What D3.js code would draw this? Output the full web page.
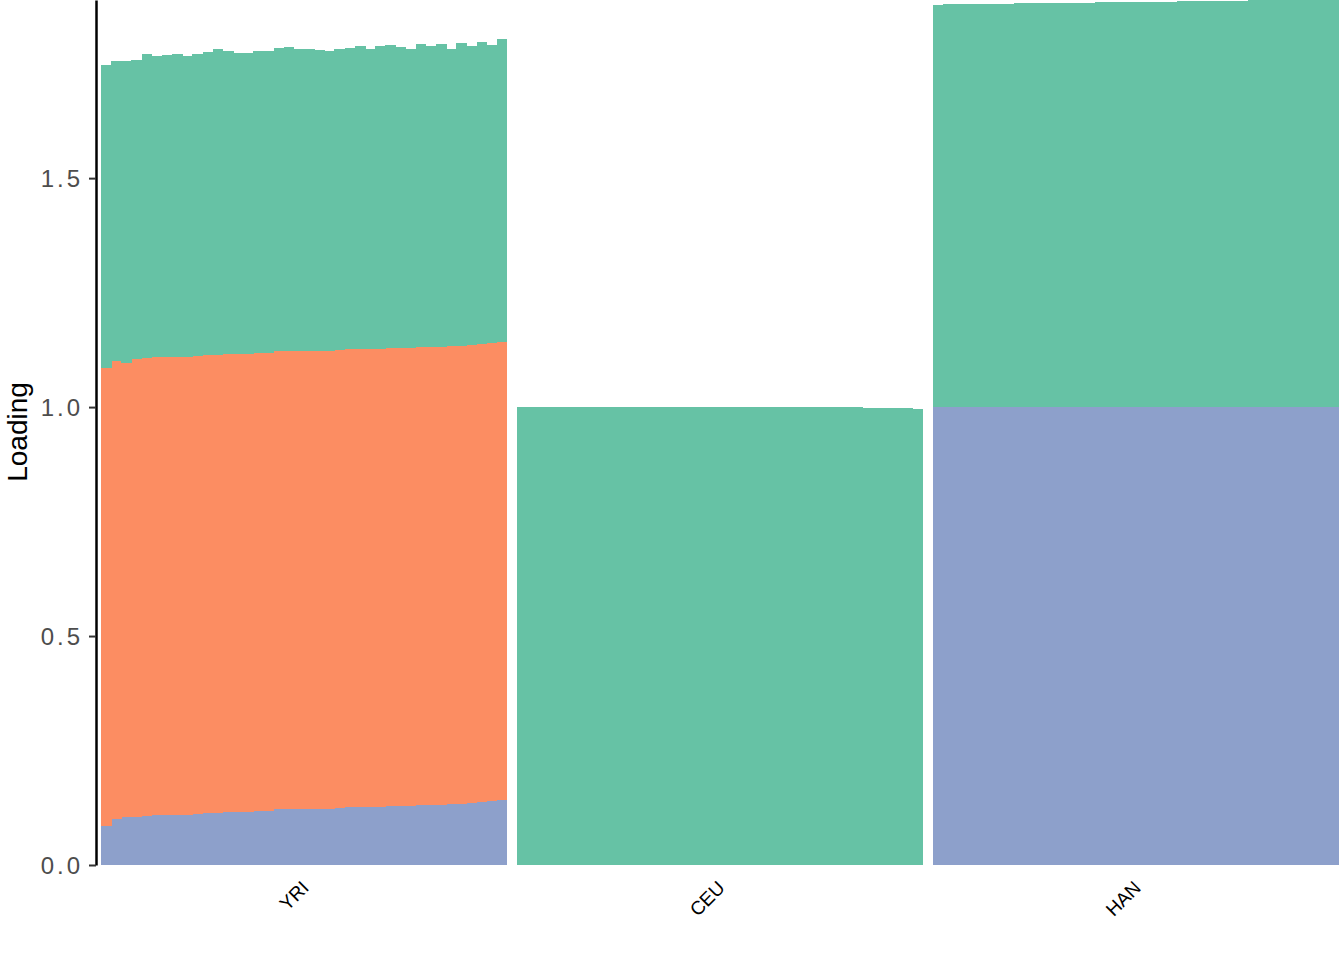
<!DOCTYPE html>
<html>
<head>
<meta charset="utf-8">
<script src="https://cdn.jsdelivr.net/npm/d3@7"></script>
<style>
  html, body { margin: 0; padding: 0; background: #fff; }
  svg { display: block; }
</style>
</head>
<body>
<svg id="chart" width="1344" height="960"></svg>
<script>
// ---- data ----
const groups = ["YRI", "CEU", "HAN"];
const factors = ["k3", "k2", "k1"]; // stacking order bottom -> top
const factorColors = ["#8da0cb", "#fc8d62", "#66c2a5"];
const yTicks = [0, 0.5, 1.0, 1.5];

// YRI, 40 samples
const yriK3 = [0.085,0.100,0.105,0.105,0.107,0.109,0.109,0.109,0.109,0.111,
               0.114,0.114,0.116,0.116,0.116,0.118,0.118,0.122,0.122,0.122,
               0.122,0.122,0.122,0.124,0.127,0.127,0.127,0.127,0.129,0.129,
               0.129,0.131,0.131,0.131,0.133,0.133,0.135,0.138,0.140,0.142];
const yriK2 = [1.000,1.000,0.991,1.000,1.000,1.000,1.000,1.000,1.000,1.000,
               1.000,1.000,1.000,1.000,1.000,1.000,1.000,1.000,1.000,1.000,
               1.000,1.000,1.000,1.000,1.000,1.000,1.000,1.000,1.000,1.000,
               1.000,1.000,1.000,1.000,1.000,1.000,1.000,1.000,1.000,1.000];
const yriK1 = [0.662,0.655,0.659,0.653,0.664,0.657,0.659,0.662,0.657,0.659,
               0.662,0.668,0.662,0.657,0.657,0.659,0.659,0.662,0.664,0.659,
               0.659,0.657,0.655,0.659,0.657,0.662,0.655,0.662,0.662,0.657,
               0.653,0.662,0.657,0.662,0.648,0.662,0.653,0.659,0.651,0.662];

// CEU, 40 samples
const ceuK3 = Array(40).fill(0);
const ceuK2 = Array(40).fill(0);
const ceuK1 = [1.000,1.000,1.000,1.000,1.000,1.000,1.000,1.000,1.000,1.000,
               1.000,1.000,1.000,1.000,1.000,1.000,1.000,1.000,1.000,1.000,
               1.000,1.000,1.000,1.000,1.000,1.000,1.000,1.000,1.000,1.000,
               1.000,1.000,1.000,1.000,0.998,0.998,0.998,0.998,0.998,0.996];

// HAN, 40 samples
const hanK3 = Array(40).fill(1.0);
const hanK2 = Array(40).fill(0);
const hanK1 = [0.878,0.880,0.880,0.880,0.880,0.880,0.880,0.880,0.882,0.882,
               0.882,0.882,0.882,0.882,0.882,0.882,0.884,0.884,0.884,0.884,
               0.884,0.884,0.884,0.884,0.886,0.886,0.886,0.886,0.886,0.886,
               0.886,0.889,0.889,0.889,0.889,0.889,0.889,0.889,0.889,0.889];

// ---- build table ----
const groupData = {
  YRI: {k3: yriK3, k2: yriK2, k1: yriK1},
  CEU: {k3: ceuK3, k2: ceuK2, k1: ceuK1},
  HAN: {k3: hanK3, k2: hanK2, k1: hanK1}
};
const rows = [];
groups.forEach(g => {
  const d = groupData[g];
  d.k1.forEach((_, i) => {
    rows.push({group: g, idx: i, k3: d.k3[i], k2: d.k2[i], k1: d.k1[i]});
  });
});

// ---- layout ----
const svg = d3.select("#chart");
const plotLeft = 101, plotRight = 1339, plotTop = 0, plotBottom = 865;

const yMax = 1.889;
const y = d3.scaleLinear().domain([0, yMax]).range([plotBottom, plotTop]);

const xGroup = d3.scaleBand().domain(groups).range([plotLeft, plotRight])
  .paddingInner(10 / 416).paddingOuter(0);
const nSamples = 40;
const xSample = d3.scaleBand().domain(d3.range(nSamples)).range([0, xGroup.bandwidth()]).padding(0);

const color = d3.scaleOrdinal().domain(factors).range(factorColors);
const stack = d3.stack().keys(factors);
const series = stack(rows);

const g = svg.append("g");
g.selectAll("g.layer").data(series).join("g")
  .attr("class", "layer")
  .attr("fill", d => color(d.key))
  .selectAll("rect").data(d => d).join("rect")
  .attr("x", d => xGroup(d.data.group) + xSample(d.data.idx))
  .attr("width", d => d.data.idx === nSamples - 1 ? xSample.bandwidth() : xSample.bandwidth() + 0.6)
  .attr("y", d => y(d[1]))
  .attr("height", d => Math.max(0, y(d[0]) - y(d[1])))
  .attr("shape-rendering", "crispEdges");

// ---- y axis ----
const yAxis = d3.axisLeft(y).tickValues(yTicks).tickFormat(d3.format(".1f"))
  .tickSizeInner(7).tickSizeOuter(0).tickPadding(6);
const ya = svg.append("g").attr("transform", "translate(96,0)").call(yAxis);
ya.select(".domain").attr("stroke", "#000").attr("stroke-width", 2.5);
ya.selectAll(".tick line").attr("stroke", "#333").attr("stroke-width", 2);
ya.selectAll(".tick text")
  .attr("fill", "#4d4d4d")
  .style("font-family", "'Liberation Sans', Arial, sans-serif")
  .style("font-size", "24px")
  .style("letter-spacing", "3px")
  .attr("dy", "0.36em");

// y label
svg.append("text")
  .attr("transform", `translate(27,${432}) rotate(-90)`)
  .attr("text-anchor", "middle")
  .style("font-family", "'Liberation Sans', Arial, sans-serif")
  .style("font-size", "28px")
  .attr("fill", "#000")
  .text("Loading");

// ---- x labels ----
svg.append("g").selectAll("text").data(groups).join("text")
  .attr("transform", d => `translate(${xGroup(d) + xGroup.bandwidth() / 2 + 6},${889}) rotate(-45)`)
  .attr("text-anchor", "end")
  .style("font-family", "'Liberation Sans', Arial, sans-serif")
  .style("font-size", "19px")
  .attr("fill", "#000")
  .text(d => d);
</script>
</body>
</html>
